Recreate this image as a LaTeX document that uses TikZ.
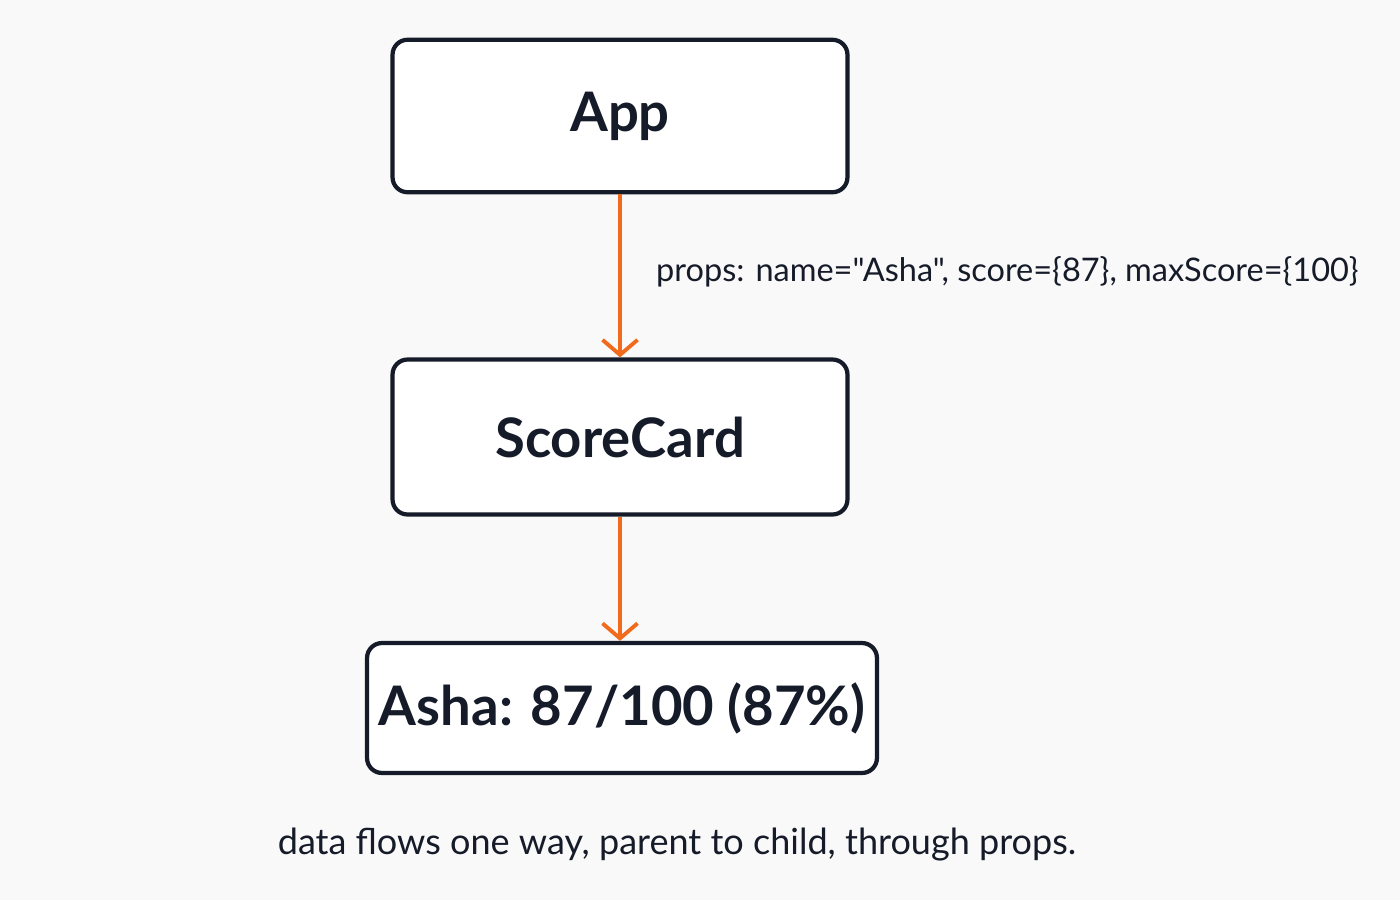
\documentclass[tikz,border=0pt]{standalone}
\usepackage{fontspec}
\setmainfont{Lato}[Ligatures=TeXOff]
\usetikzlibrary{arrows.meta,positioning}
\definecolor{ink}{HTML}{161B29}
\definecolor{flow}{HTML}{F26B1D}
\definecolor{paper}{HTML}{F9F9F9}
\begin{document}
\begin{tikzpicture}[x=0.02cm,y=-0.02cm,
	box/.style={draw=ink, line width=2.4pt, rounded corners=0.3cm, fill=white, font=\fontsize{31}{36}\selectfont\bfseries, text=ink},
	link/.style={draw=flow, line width=2.2pt, -{Straight Barb[length=0.3cm,width=0.7cm,line width=2.2pt]}},
	note/.style={font=\fontsize{18.5}{22}\selectfont, text=ink}]
	\fill[paper] (0,0) rectangle (1400,900);
	\useasboundingbox (0,0) rectangle (1400,900);

	\node[box, minimum width=9.1cm, minimum height=3.05cm] (app) at (620,116) {App};
	\node[box, minimum width=9.1cm, minimum height=3.1cm] (card) at (620,437) {ScoreCard};
	\node[box, minimum width=10.2cm, minimum height=2.6cm] (out) at (622,708) {Asha: 87/100 (87\%)};

	\draw[link] (app.south -| card.north) -- (card.north);
	\draw[link] (card.south) -- (card.south |- out.north);

	\node[note, anchor=west] (props) at (650,272) {props: name="Asha", score=\{87\}, maxScore=\{100\}};
	\node[note, font=\fontsize{20.5}{24}\selectfont] (caption) at (677,845) {data flows one way, parent to child, through props.};
\end{tikzpicture}
\end{document}
